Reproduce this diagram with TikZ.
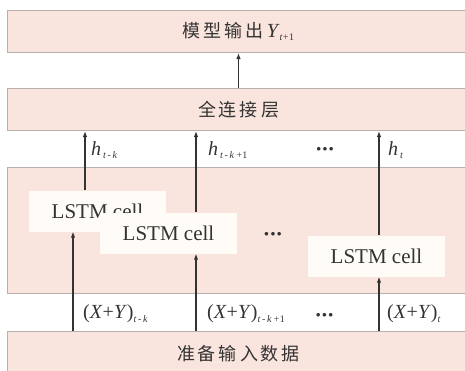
\documentclass[tikz,border=0pt]{standalone}
\usepackage{fontspec}
\setmainfont{Liberation Serif}
\newfontfamily\cjk{Noto Sans CJK SC}
\usetikzlibrary{arrows.meta}
\definecolor{layerfill}{HTML}{FAE4DE}
\definecolor{layerline}{HTML}{B8B0AE}
\definecolor{cellfill}{HTML}{FFFCF7}
\definecolor{ink}{HTML}{333333}
\newcommand\gp{\hspace{3pt}}
\newcommand\sub[1]{\raisebox{-3.5pt}{\fontsize{10}{10}\selectfont\textit{#1}}}
\newcommand\subone{\raisebox{-3.5pt}{\fontsize{10}{10}\selectfont 1}}
\newcommand\dotsx{{\fontsize{22}{22}\selectfont\bfseries\raisebox{0pt}{·\kern-1pt·\kern-1pt·}}}
\tikzset{
  layer/.style={draw=layerline, line width=1pt, fill=layerfill, anchor=north west,
    minimum width=462pt, inner sep=0pt, text=ink},
  cell/.style={fill=cellfill, minimum width=137pt, minimum height=41pt, inner sep=0pt,
    text=ink, font=\fontsize{21}{21}\selectfont},
  arr/.style={draw=ink, line width=1.1pt, -{Latex[length=6pt,width=4.5pt]}},
  lab/.style={anchor=west, inner sep=0pt, text=ink, font=\fontsize{20}{20}\selectfont},
  dots/.style={inner sep=0pt, text=ink}
}
\begin{document}
\begin{tikzpicture}[x=1pt,y=-1pt]
\useasboundingbox (0,0) rectangle (465,370);
\node[layer, minimum height=42pt, font=\cjk\fontsize{18}{18}\selectfont] (out) at (7,10)
  {模\gp 型\gp 输\gp 出\gp\textrm{\fontsize{20}{20}\selectfont\textit{Y}\sub{t+}\subone}};
\node[layer, minimum height=42pt, font=\cjk\fontsize{18}{18}\selectfont] (fc) at (7,88)
  {全\gp 连\gp 接\gp 层};
\node[layer, minimum height=126pt] (mid) at (7,167) {};
\node[layer, minimum height=46pt, font=\cjk\fontsize{18}{18}\selectfont] (inp) at (7,331)
  {\raisebox{3pt}{准\gp 备\gp 输\gp 入\gp 数\gp 据}};
\node[cell] (c1) at (97.5,211) {LSTM cell};
\node[cell] (c2) at (168.5,233) {LSTM cell};
\node[cell] (c3) at (376.5,256) {LSTM cell};
\node[dots] (dm) at (273,237) {\dotsx};
\draw[arr] (fc.north) -- (out.south);
\draw[arr] ([xshift=-12.5pt]c1.north) -- ([xshift=-12.5pt]c1.north |- fc.south);
\draw[arr] ([xshift=27.5pt]c2.north) -- ([xshift=27.5pt]c2.north |- fc.south);
\draw[arr] ([xshift=2.5pt]c3.north) -- ([xshift=2.5pt]c3.north |- fc.south);
\draw[arr] ([xshift=-24.5pt]c1.south |- inp.north) -- ([xshift=-24.5pt]c1.south);
\draw[arr] ([xshift=27.5pt]c2.south |- inp.north) -- ([xshift=27.5pt]c2.south);
\draw[arr] ([xshift=2.5pt]c3.south |- inp.north) -- ([xshift=2.5pt]c3.south);
\node[lab] (h1) at (91,150) {\textit{h}\kern2pt\sub{t\,-\,k}};
\node[lab] (h2) at (208,150) {\textit{h}\kern2pt\sub{t\,-\,k\,+}\subone};
\node[dots] (hd) at (325,152) {\dotsx};
\node[lab] (h3) at (388,150) {\textit{h}\kern2pt\sub{t}};
\node[lab] (x1) at (83,314) {(\textit{X}+\textit{Y})\sub{t\,-\,k}};
\node[lab] (x2) at (207,314) {(\textit{X}+\textit{Y})\sub{t\,-\,k\,+}\subone};
\node[dots] (xd) at (324.5,318) {\dotsx};
\node[lab] (x3) at (387,314) {(\textit{X}+\textit{Y})\sub{t}};
\end{tikzpicture}
\end{document}
